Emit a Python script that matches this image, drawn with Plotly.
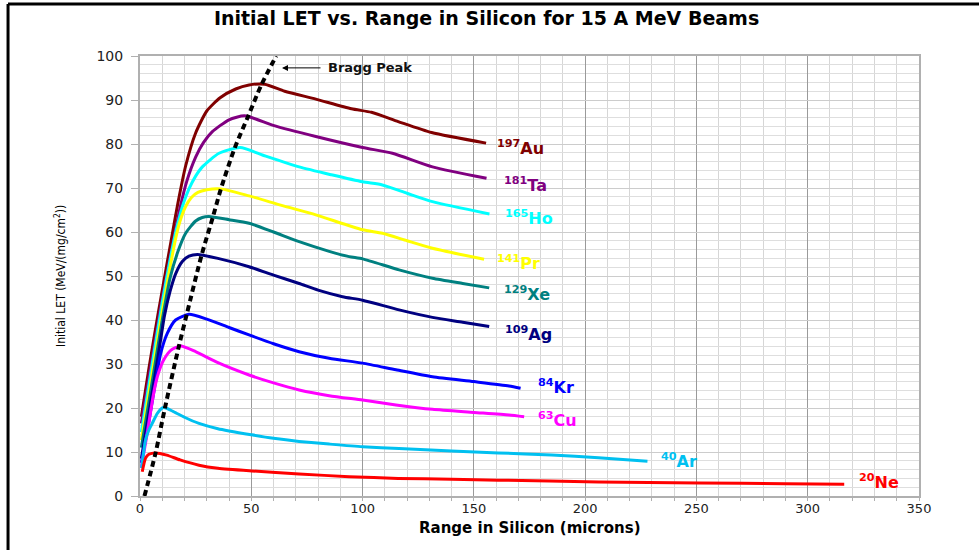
import plotly.graph_objects as go

# Initial LET (MeV/(mg/cm^2)) versus range in silicon (microns), 15 A MeV beams
au_range = [0.6, 4, 8, 11.5, 14.5, 17, 20.5, 25, 30, 36, 43, 49, 56, 65, 79, 95, 104, 116, 131, 155.5]
au_let = [18, 29, 41, 51, 59.5, 66.5, 75, 82.5, 87.5, 90.5, 92.5, 93.4, 93.6, 92.0, 90.2, 88.0, 87.2, 85.1, 82.6, 80.2]

ta_range = [0.6, 5, 10, 15, 18, 21, 25, 28.5, 32.5, 40, 47, 59.5, 79, 100, 113.4, 131.4, 155.7]
ta_let = [16.5, 30, 45, 58, 65.5, 71.5, 77, 80.3, 82.8, 85.5, 86.4, 84.3, 81.7, 79.2, 77.9, 74.8, 72.2]

ho_range = [0.6, 5, 10, 14, 17, 19.5, 22, 25, 28, 35.5, 45, 55, 71.5, 86, 100, 108.9, 120, 131.4, 157]
ho_let = [14.5, 28.5, 44, 55, 62, 66.5, 69.8, 72.7, 74.8, 77.9, 79.2, 77.5, 74.8, 73.0, 71.4, 70.7, 68.8, 66.9, 64.1]

pr_range = [0.6, 5, 10, 13.5, 16, 18, 20.5, 23, 26, 30, 36.3, 49, 64, 79, 100, 108.9, 120, 131.4, 154.6]
pr_let = [12.7, 26.5, 42, 52, 58.5, 62.5, 65.8, 67.8, 69.0, 69.6, 69.8, 68.2, 66.0, 63.9, 60.5, 59.7, 58.0, 56.3, 53.8]

xe_range = [0.6, 5, 10, 13.5, 16.8, 20.5, 25, 28, 31, 40, 49, 60, 71.5, 85, 94, 100, 116.4, 131.4, 145, 156.9]
xe_let = [11, 24.5, 40, 49.5, 55.2, 59.7, 62.5, 63.3, 63.5, 62.8, 62.0, 60.0, 57.8, 55.6, 54.4, 53.9, 51.4, 49.5, 48.3, 47.3]

ag_range = [0.6, 5, 8.5, 11, 13.5, 16, 19, 22, 25.8, 35, 49, 60, 71.5, 80, 91, 100, 116.4, 131.4, 145, 156.9]
ag_let = [8.5, 22, 33, 41, 46.5, 50.5, 53.3, 54.5, 54.9, 54.0, 52.1, 50.2, 48.3, 46.8, 45.3, 44.5, 42.3, 40.6, 39.5, 38.5]

kr_range = [0.6, 4, 7, 9.3, 12.3, 16, 22, 30, 40, 49, 60, 71.5, 85, 100, 115, 131.4, 150, 165.8, 171]
kr_let = [7.5, 17, 26, 32.4, 37, 40, 41.3, 40.2, 38.3, 36.6, 34.6, 32.8, 31.3, 30.2, 28.7, 27.1, 26.0, 25.0, 24.5]

cu_range = [0.6, 3.5, 5.5, 7, 8.5, 10.5, 13.8, 18.3, 25, 35, 49, 60, 71.5, 85, 100, 115, 131.4, 150, 165.8, 172.6]
cu_let = [6.5, 15, 21.5, 25.5, 28.3, 30.8, 33.1, 34.1, 32.8, 30.3, 27.5, 25.7, 24.1, 22.8, 21.8, 20.7, 19.7, 19.0, 18.4, 18.0]

ar_range = [0.7, 2.5, 4, 5.5, 7.8, 10.5, 15, 20, 26.5, 35, 50.2, 60, 71.5, 85, 100, 116.4, 140, 161, 185, 206, 228]
ar_let = [6.3, 12.7, 15, 16.5, 18.8, 20.1, 19.2, 17.9, 16.5, 15.3, 13.9, 13.1, 12.4, 11.8, 11.2, 10.8, 10.2, 9.8, 9.3, 8.7, 7.9]

ne_range = [1, 2.5, 4, 7, 12, 18, 26.5, 35, 50.2, 71.5, 94, 116, 140, 161, 206, 251, 290, 316.4]
ne_let = [5.5, 8.6, 9.5, 9.8, 9.3, 8.2, 7.0, 6.3, 5.7, 5.0, 4.4, 4.0, 3.8, 3.6, 3.2, 2.95, 2.8, 2.65]

bragg_range = [2, 7, 11.2, 17.5, 21, 27.7, 32.8, 36.3, 42.5, 48.5, 54.5, 61.2]
bragg_let = [0, 9.8, 20, 34.1, 41.3, 54.8, 63.5, 69.7, 79, 86.2, 93.4, 100]

ion_mass = ["197", "181", "165", "141", "129", "109", "84", "63", "40", "20"]
ion_symbol = ["Au", "Ta", "Ho", "Pr", "Xe", "Ag", "Kr", "Cu", "Ar", "Ne"]
ion_color = ["#800000", "#800080", "#00FFFF", "#FFFF00", "#008080",
             "#000080", "#0000FF", "#FF00FF", "#00C0F0", "#FF0000"]
label_range = [159.6, 162.7, 163, 159.5, 162.7, 163, 178, 178, 233, 322]
label_let = [79.1, 70.9, 63.2, 53.0, 46.1, 37.0, 24.8, 17.5, 8.0, 3.4]

curves = [(au_range, au_let), (ta_range, ta_let), (ho_range, ho_let), (pr_range, pr_let),
          (xe_range, xe_let), (ag_range, ag_let), (kr_range, kr_let), (cu_range, cu_let),
          (ar_range, ar_let), (ne_range, ne_let)]

fig = go.Figure()

for (xs, ys), sym, col in zip(curves, ion_symbol, ion_color):
    fig.add_trace(go.Scatter(
        x=xs, y=ys, mode="lines", name=sym,
        line=dict(color=col, width=3, shape="spline", smoothing=0.6),
        showlegend=False, hoverinfo="skip"))

fig.add_trace(go.Scatter(
    x=bragg_range, y=bragg_let, mode="lines", name="Bragg Peak",
    line=dict(color="black", width=4, dash="6px,4px", shape="spline", smoothing=0.8),
    showlegend=False, hoverinfo="skip"))

annotations = []
for m, sym, col, lx, ly in zip(ion_mass, ion_symbol, ion_color, label_range, label_let):
    annotations.append(dict(
        x=lx, y=ly, xref="x", yref="y", xanchor="left", yanchor="middle",
        text=f"<sup>{m}</sup>{sym}", showarrow=False,
        font=dict(family="DejaVu Sans", size=16, color=col, weight="bold")))

# Bragg peak pointer
annotations.append(dict(
    x=63.8, y=97.3, xref="x", yref="y", text="", showarrow=True,
    ax=40, ay=0, arrowhead=2, arrowsize=1.2, arrowwidth=1, arrowcolor="black"))
annotations.append(dict(
    x=83.6, y=97.3, xref="x", yref="y", xanchor="left", yanchor="middle",
    text="Bragg Peak", showarrow=False,
    font=dict(family="DejaVu Sans", size=13, color="#111111", weight="bold")))

# axis titles
annotations.append(dict(
    x=-0.1027, y=0.5, xref="paper", yref="paper", xanchor="center", yanchor="middle",
    text="Initial LET (MeV/(mg/cm<sup>2</sup>))", textangle=-90, showarrow=False,
    font=dict(family="Liberation Sans Narrow, DejaVu Sans Condensed, sans-serif",
              size=12, color="black")))
annotations.append(dict(
    x=0.5, y=-0.0735, xref="paper", yref="paper", xanchor="center", yanchor="middle",
    text="Range in Silicon (microns)", showarrow=False,
    font=dict(family="DejaVu Sans", size=15, color="black", weight="bold")))

# outer frame (top and left edges)
shapes = [
    dict(type="line", xref="paper", yref="paper", x0=-0.1694, x1=-0.1694, y0=1.118, y1=-0.2,
         line=dict(color="black", width=3)),
    dict(type="line", xref="paper", yref="paper", x0=-0.1694, x1=1.2, y0=1.118, y1=1.118,
         line=dict(color="black", width=3)),
]

fig.update_layout(
    width=979, height=550,
    margin=dict(l=140, r=60, t=56, b=54),
    paper_bgcolor="white", plot_bgcolor="white",
    title=dict(text="Initial LET vs. Range in Silicon for 15 A MeV Beams",
               x=0.497, xanchor="center", y=1 - 18 / 550, yanchor="middle",
               font=dict(family="DejaVu Sans", size=19, color="black", weight="bold")),
    annotations=annotations,
    shapes=shapes,
)

fig.update_xaxes(
    range=[0, 350], dtick=50, tick0=0,
    showgrid=True, gridcolor="#9a9a9a", gridwidth=1,
    showline=True, linecolor="#b0b0b0", linewidth=2, mirror=True,
    ticks="outside", ticklen=3, tickcolor="#b0b0b0",
    ticklabelstandoff=-4,
    tickfont=dict(family="DejaVu Sans", size=13, color="#222222"),
    minor=dict(dtick=10, showgrid=True, gridcolor="#d6d6d6", gridwidth=1,
               ticks="outside", ticklen=3, tickcolor="#b0b0b0"),
    zeroline=False,
)
fig.update_yaxes(
    range=[0, 100], dtick=10, tick0=0,
    showgrid=True, gridcolor="#cccccc", gridwidth=1,
    showline=True, linecolor="#b0b0b0", linewidth=2, mirror=True,
    ticks="outside", ticklen=7, tickcolor="#b0b0b0",
    ticklabelstandoff=5,
    tickfont=dict(family="DejaVu Sans", size=14, color="#222222"),
    minor=dict(dtick=2, showgrid=True, gridcolor="#dedede", gridwidth=1),
    zeroline=False,
)

fig.write_html("out.html", config={"displayModeBar": False})
